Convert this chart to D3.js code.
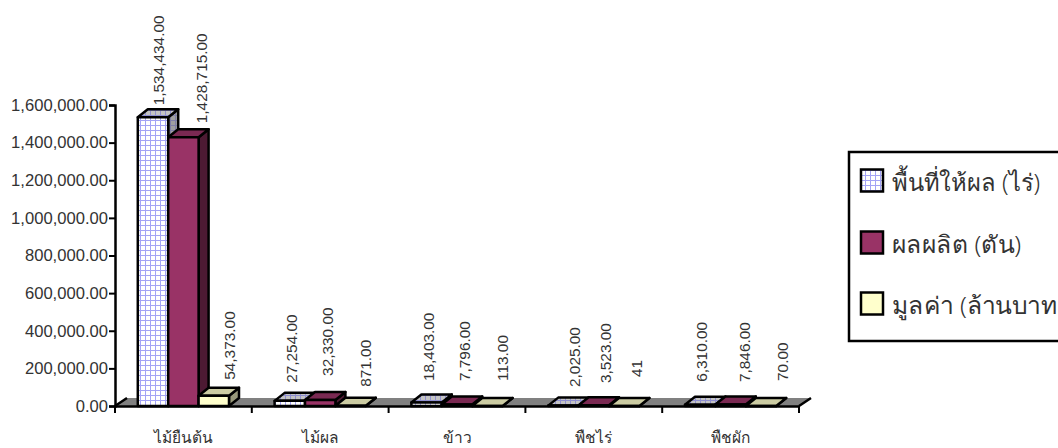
<!DOCTYPE html>
<html>
<head>
<meta charset="utf-8">
<script src="https://cdn.jsdelivr.net/npm/d3@7"></script>
<style>
  html, body { margin: 0; padding: 0; background: #fff; overflow: hidden; }
  text { fill: #333; font-family: "Liberation Sans", Arial, sans-serif; }
  .thai { font-family: "Noto Sans", "Liberation Sans", sans-serif; font-weight: 300; }
</style>
</head>
<body>
<svg id="chart" width="1058" height="448"></svg>
<script>
const categories = ["ไม้ยืนต้น", "ไม้ผล", "ข้าว", "พืชไร่", "พืชผัก"];
const seriesNames = ["พื้นที่ให้ผล (ไร่)", "ผลผลิต (ตัน)", "มูลค่า (ล้านบาท"];
const area = [1534434, 27254, 18403, 2025, 6310];
const output = [1428715, 32330, 7796, 3523, 7846];
const worth = [54373, 871, 113, 41, 70];
const areaLabels = ["1,534,434.00", "27,254.00", "18,403.00", "2,025.00", "6,310.00"];
const outputLabels = ["1,428,715.00", "32,330.00", "7,796.00", "3,523.00", "7,846.00"];
const worthLabels = ["54,373.00", "871.00", "113.00", "41", "70.00"];
const yTicks = [0, 200000, 400000, 600000, 800000, 1000000, 1200000, 1400000, 1600000];

// data labels were hand placed in the original: offset from bar centre / bar top
const labelDx = [[6, 18.6, 16], [2.2, 7.8, 15.4], [2.4, 8, 15.6], [11.6, 12.2, 12.8], [1.8, 14.4, 22]];
const labelLift = [[12, 14, 16], [18, 24, 19], [21.5, 23.5, 25], [18.6, 22.3, 29], [23, 22.5, 25]];

const svg = d3.select("#chart");
const plotLeft = 115, plotRight = 799, plotTop = 105, plotBottom = 406;
const depthX = 10, depthY = 8;

const x = d3.scaleBand().domain(categories).range([plotLeft, plotRight]);
const xInner = d3.scaleBand().domain(d3.range(3)).range([22.8, 114]);
const y = d3.scaleLinear().domain([0, 1600000]).range([plotBottom, plotTop]);

const defs = svg.append("defs");
function gridPattern(id, bg, line) {
  const p = defs.append("pattern").attr("id", id)
    .attr("patternUnits", "userSpaceOnUse")
    .attr("width", 5).attr("height", 5);
  p.append("rect").attr("width", 5).attr("height", 5).attr("fill", bg);
  p.append("path").attr("d", "M0 0.5H5M0.5 0V5")
    .attr("stroke", line).attr("stroke-width", 1).attr("fill", "none");
}
gridPattern("gridFront", "#fff", "#a3a3f5");
gridPattern("gridTop", "#c4c4c4", "#8f8fd0");
gridPattern("gridSide", "#a0a0a0", "#7f7fa8");

const fills = [
  { front: "url(#gridFront)", top: "url(#gridTop)", side: "url(#gridSide)" },
  { front: "#993366", top: "#7a2952", side: "#4d1a33" },
  { front: "#ffffcc", top: "#ccccA3", side: "#99997a" }
];

// floor, only its slanted ends are outlined
svg.append("path")
  .attr("d", `M${plotLeft} ${plotBottom}L${plotLeft + 12} ${plotBottom - 8}H${plotRight + 12}L${plotRight} ${plotBottom}Z`)
  .attr("fill", "#808080");
svg.append("path")
  .attr("d", `M${plotLeft} ${plotBottom}L${plotLeft + 12} ${plotBottom - 8}M${plotRight} ${plotBottom}L${plotRight + 12} ${plotBottom - 8}`)
  .attr("fill", "none").attr("stroke", "#000").attr("stroke-width", 2.5);

const series = [area, output, worth];
const labels = [areaLabels, outputLabels, worthLabels];

categories.forEach((cat, c) => {
  series.forEach((vals, s) => {
    const x0 = x(cat) + xInner(s), x1 = x0 + xInner.bandwidth();
    const yT = y(vals[c]);
    const g = svg.append("g").attr("stroke", "#000").attr("stroke-width", 2.5).attr("stroke-linejoin", "round");
    g.append("path")
      .attr("d", `M${x1} ${plotBottom}L${x1 + depthX} ${plotBottom - depthY}V${yT - depthY}L${x1} ${yT}Z`)
      .attr("fill", fills[s].side);
    g.append("path")
      .attr("d", `M${x0} ${yT}L${x0 + depthX} ${yT - depthY}H${x1 + depthX}L${x1} ${yT}Z`)
      .attr("fill", fills[s].top);
    g.append("rect")
      .attr("x", x0).attr("y", yT)
      .attr("width", x1 - x0).attr("height", plotBottom - yT)
      .attr("fill", fills[s].front);
  });
});

categories.forEach((cat, c) => {
  series.forEach((vals, s) => {
    const cx = x(cat) + xInner(s) + xInner.bandwidth() / 2 + labelDx[c][s];
    const yT = y(vals[c]) - labelLift[c][s];
    svg.append("text")
      .attr("transform", `translate(${cx},${yT}) rotate(-90)`)
      .attr("dy", "0.35em")
      .attr("font-size", 15.4)
      .text(labels[s][c]);
  });
});

// axes
const yAxis = d3.axisLeft(y).tickValues(yTicks).tickSize(6).tickPadding(1)
  .tickFormat(d3.format(",.2f"));
const gy = svg.append("g").attr("transform", `translate(${plotLeft},0)`).call(yAxis);
const xAxis = d3.axisBottom(x).tickValues([]).tickSizeOuter(0);
const gx = svg.append("g").attr("transform", `translate(0,${plotBottom})`).call(xAxis);
const xEdges = categories.map(c => x(c)).concat([plotRight]);
gx.selectAll("line.edge").data(xEdges).enter().append("line").attr("class", "edge")
  .attr("x1", d => d).attr("x2", d => d).attr("y1", 0).attr("y2", 7)
  .attr("stroke", "#000").attr("stroke-width", 2);
svg.selectAll(".domain").attr("stroke", "#000").attr("stroke-width", 2.5);
gy.selectAll("line").attr("stroke", "#000").attr("stroke-width", 2);
gy.selectAll("text").attr("font-size", 16.6).style("fill", "#333");

svg.selectAll("text.cat").data(categories).enter().append("text")
  .attr("class", "cat thai")
  .attr("x", d => x(d) + x.bandwidth() / 2)
  .attr("y", 443)
  .attr("text-anchor", "middle")
  .attr("font-size", 15.5)
  .text(d => d);

// legend, runs off the right edge like the source
const legendX = 849, legendY = 152;
const legend = svg.append("g");
legend.append("rect")
  .attr("x", legendX).attr("y", legendY)
  .attr("width", 230).attr("height", 189)
  .attr("fill", "#fff").attr("stroke", "#000").attr("stroke-width", 2.5);
const legendRows = [180.5, 242.5, 303.5];
const legendWidths = [148, 129, 165];
seriesNames.forEach((name, i) => {
  legend.append("rect")
    .attr("x", 861).attr("y", legendRows[i] - 11)
    .attr("width", 22).attr("height", 22)
    .attr("fill", i === 0 ? "url(#gridFront)" : fills[i].front).attr("stroke", "#000").attr("stroke-width", 2.5);
  legend.append("text").attr("class", "thai")
    .attr("x", 892).attr("y", legendRows[i] + 10)
    .attr("font-size", 24)
    .attr("textLength", legendWidths[i]).attr("lengthAdjust", "spacingAndGlyphs")
    .text(name);
});
</script>
</body>
</html>
